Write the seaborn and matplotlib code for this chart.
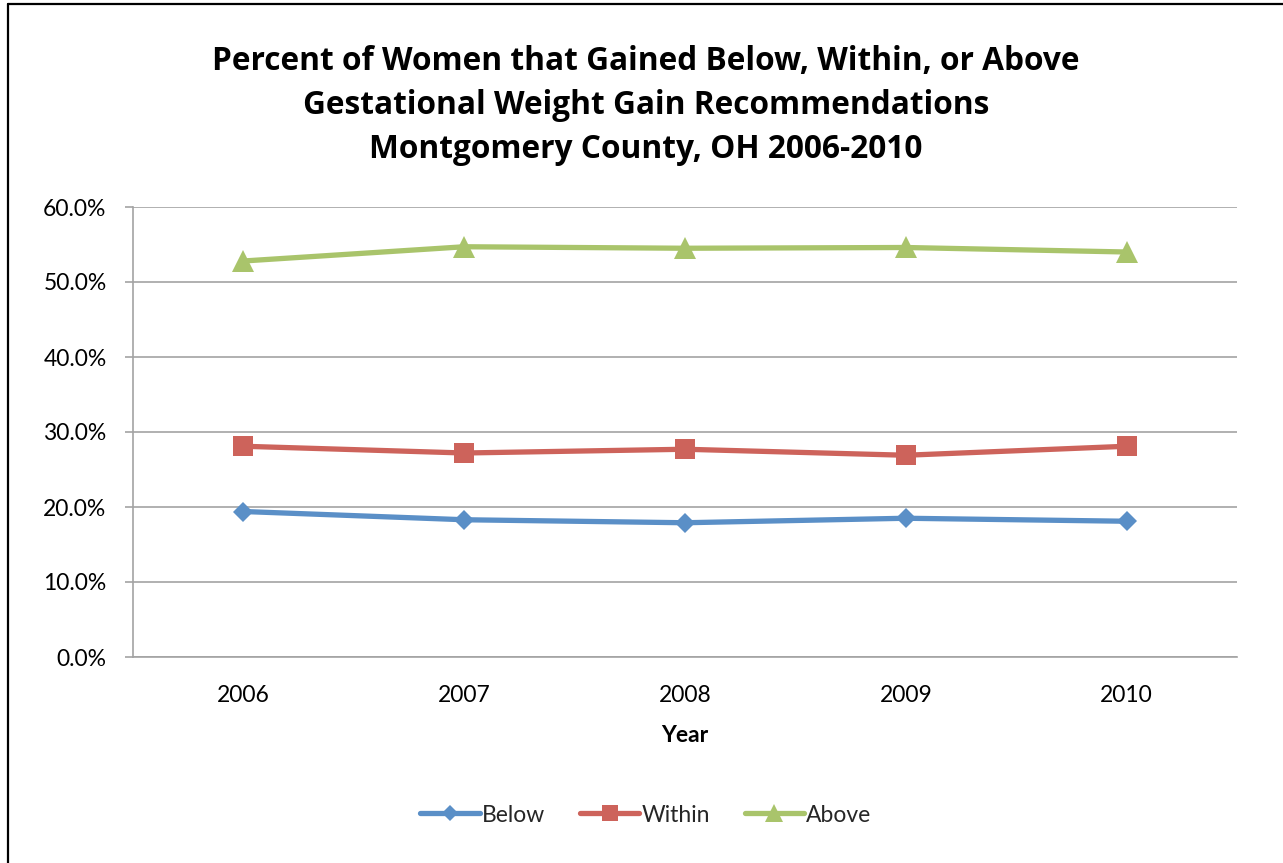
import matplotlib
matplotlib.use("Agg")
import matplotlib.pyplot as plt
from matplotlib.lines import Line2D
from matplotlib.ticker import PercentFormatter
import seaborn as sns
import pandas as pd

# Gestational weight gain categories, Montgomery County OH (percent of women)
years = ["2006", "2007", "2008", "2009", "2010"]
below = [19.4, 18.3, 17.9, 18.5, 18.1]
within = [28.1, 27.2, 27.7, 26.9, 28.1]
above = [52.8, 54.7, 54.5, 54.6, 54.0]
series_names = ["Below", "Within", "Above"]
y_ticks = [0, 10, 20, 30, 40, 50, 60]

title_lines = [
    "Percent of Women that Gained Below, Within, or Above",
    "Gestational Weight Gain Recommendations",
    "Montgomery County, OH 2006-2010",
]

sns.set_theme(style="white")
plt.rcParams["font.family"] = ["Lato", "DejaVu Sans"]

W, H = 1283, 863
fig = plt.figure(figsize=(W / 100, H / 100), dpi=100)
fig.patch.set_facecolor("white")

ax = fig.add_axes([133 / W, 1 - 657 / H, (1237 - 133) / W, (657 - 207) / H])

df = pd.DataFrame({"Year": years, "Below": below, "Within": within, "Above": above})

styles = {
    "Below": dict(color="#5A8FC7", marker="D", markersize=10.5),
    "Within": dict(color="#CD635B", marker="s", markersize=15),
    "Above": dict(color="#A9C46B", marker="^", markersize=15.5),
}

for name in series_names:
    st = styles[name]
    sns.lineplot(data=df, x="Year", y=name, ax=ax, color=st["color"],
                 marker=st["marker"], markersize=st["markersize"],
                 markeredgewidth=0, linewidth=3.8, label=name,
                 legend=False, sort=False)

ax.set_xlim(-0.5, len(years) - 0.5)
ax.set_ylim(0, 60)
ax.set_yticks(y_ticks)
ax.yaxis.set_major_formatter(PercentFormatter(decimals=1))

grid_col = "#A3A3A3"
ax.grid(axis="y", color=grid_col, linewidth=1.2)
ax.grid(axis="x", visible=False)
ax.set_axisbelow(True)
for side in ["top", "right"]:
    ax.spines[side].set_visible(False)
for side in ["left", "bottom"]:
    ax.spines[side].set_color(grid_col)
    ax.spines[side].set_linewidth(1.2)

ax.tick_params(axis="y", which="major", length=6, width=1.2, color=grid_col,
               left=True, pad=13, labelsize=16.5, labelcolor="black")
ax.tick_params(axis="x", which="major", length=0, pad=20, labelsize=16.5,
               labelcolor="black")
ax.set_ylabel("")
ax.set_xlabel("Year", fontsize=16.5, fontweight="bold", labelpad=14, color="black")

# Title, one line per row
for i, line in enumerate(title_lines):
    fig.text(646 / W, 1 - (62 + 44 * i) / H, line, ha="center", va="center",
             fontsize=22.8, fontweight="bold", color="black",
             family=["Open Sans", "DejaVu Sans"])

# Legend along the bottom
handles = [Line2D([0], [0], color=styles[n]["color"], marker=styles[n]["marker"],
                  markersize=styles[n]["markersize"] * 0.8, markeredgewidth=0,
                  linewidth=3.8) for n in series_names]
fig.legend(handles, series_names, loc="center", bbox_to_anchor=(646 / W, 1 - 815 / H),
           ncol=3, frameon=False, fontsize=16.5, handlelength=2.6,
           handletextpad=0.1, columnspacing=1.5)

# Outer frame (left and top edges)
fig.add_artist(Line2D([8 / W, 8 / W], [0, 1 - 4 / H], color="black", linewidth=1.6,
                      transform=fig.transFigure))
fig.add_artist(Line2D([8 / W, 1], [1 - 4 / H, 1 - 4 / H], color="black", linewidth=1.6,
                      transform=fig.transFigure))

fig.savefig("out.png", dpi=100, facecolor="white")
